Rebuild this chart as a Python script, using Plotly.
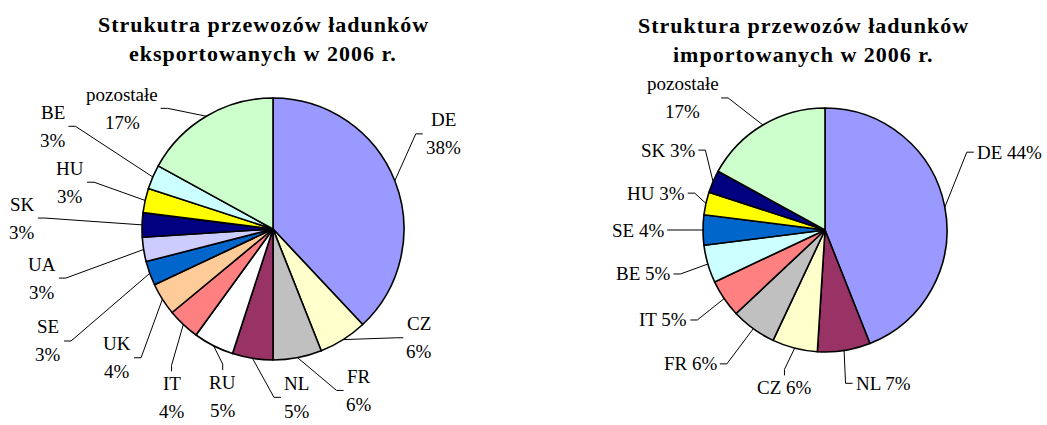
import math
import plotly.graph_objects as go

# ---------------- data ----------------
export_labels = ["DE", "CZ", "FR", "NL", "RU", "IT", "UK", "SE", "UA", "SK", "HU", "BE", "pozostałe"]
export_values = [38, 6, 6, 5, 5, 4, 4, 3, 3, 3, 3, 3, 17]
export_colors = ["#9999FF", "#FFFFCC", "#C0C0C0", "#993366", "#FFFFFF", "#FF8080", "#FFCC99",
                 "#0066CC", "#CCCCFF", "#000080", "#FFFF00", "#CCFFFF", "#CCFFCC"]
export_title = ["Strukutra przewozów ładunków", "eksportowanych w 2006 r."]

import_labels = ["DE", "NL", "CZ", "FR", "IT", "BE", "SE", "HU", "SK", "pozostałe"]
import_values = [44, 7, 6, 6, 5, 5, 4, 3, 3, 17]
import_colors = ["#9999FF", "#993366", "#FFFFCC", "#C0C0C0", "#FF8080", "#CCFFFF",
                 "#0066CC", "#FFFF00", "#000080", "#CCFFCC"]
import_title = ["Struktura przewozów ładunków", "importowanych w 2006 r."]

# ---------------- label placement (layout, not data) ----------------
# angular shift (deg) from the slice's mid-angle and distance (px) of each label centre
export_label_shift = [-7.6, -20.9, -17.3, -17, -10.3, -12.2, -7.2, -6.7, -3, 0.7, 0.4, 1.6, -20.7]
export_label_dist = [195, 182, 183, 170, 175, 197, 202, 251, 236, 251, 208, 243, 193]
import_label_shift = [-12.1, -11.8, 0, 9.2, 5.1, 2.6, 0, -0.3, 3.6, -16.5]
import_label_dist = [200, 164, 163, 190, 185, 187, 187, 173, 176, 194]

W, H = 1047, 425
FONT = "Liberation Serif, Times New Roman, serif"
LFS = 19      # label font size
TFS = 22      # title font size
LH = 28       # line spacing inside a label


def px(x, y):
    return x / W, 1 - y / H


CW = {"D": .722, "E": .611, "C": .667, "Z": .611, "F": .556, "R": .667, "N": .722, "L": .611,
      "U": .722, "I": .333, "T": .611, "K": .722, "S": .556, "H": .722, "A": .722, "B": .667,
      "%": .833, " ": .25, "ł": .28, "l": .28, "t": .28, "s": .39}


def tw(s, fs):
    return sum(CW.get(c, .5 if c.isdigit() else .46) for c in s) * fs


fig = go.Figure()
shapes = []
annotations = []


def add_pie(labels, values, colors, cx, cy, r, two_line, shifts, dists):
    fig.add_trace(go.Pie(
        labels=labels, values=values, sort=False, direction="clockwise", rotation=0,
        marker=dict(colors=colors, line=dict(color="black", width=1.6)),
        textinfo="none", hoverinfo="label+percent",
        domain=dict(x=[(cx - r) / W, (cx + r) / W], y=[1 - (cy + r) / H, 1 - (cy - r) / H]),
        showlegend=False,
    ))
    total = float(sum(values))
    cum = 0.0
    for lab, v, sh, dist in zip(labels, values, shifts, dists):
        mid = (cum + v / 2) / total * 360
        cum += v
        pct = f"{round(v / total * 100)}%"
        a = math.radians(mid)
        ex, ey = cx + r * math.sin(a), cy - r * math.cos(a)          # slice edge point
        b = math.radians(mid + sh)
        tx, ty = cx + dist * math.sin(b), cy - dist * math.cos(b)    # label centre
        lines = [lab, pct] if (two_line or lab == "pozostałe") else [f"{lab} {pct}"]
        n = len(lines)
        hw = max(tw(t, LFS) for t in lines) / 2
        hh = (n - 1) * LH / 2 + LFS * 0.5
        for i, t in enumerate(lines):
            ly = ty + (i - (n - 1) / 2) * LH
            annotations.append(dict(x=px(tx, ly)[0], y=px(tx, ly)[1], xref="paper", yref="paper",
                                    text=t, showarrow=False, xanchor="center", yanchor="middle",
                                    font=dict(family=FONT, size=LFS, color="black")))
        if abs(tx - ex) > hw:      # connect to the side of the label
            side = 1 if tx < ex else -1    # +1: label left of edge point -> connect to its right side
            sx = tx + side * (hw + 3)
            kx = sx + side * 7
            path = "M {} {} L {} {} L {} {}".format(*px(ex, ey), *px(kx, ty), *px(sx, ty))
        else:                      # connect to the top / bottom of the label
            vs = -1 if ty > ey else 1
            sy = ty + vs * (hh + 3)
            ky = sy + vs * 6
            path = "M {} {} L {} {} L {} {}".format(*px(ex, ey), *px(tx, ky), *px(tx, sy))
        shapes.append(dict(type="path", xref="paper", yref="paper", path=path,
                           line=dict(color="black", width=1)))


def add_title(lines, cx, y0):
    for i, t in enumerate(lines):
        x, y = px(cx, y0 + i * 29)
        annotations.append(dict(x=x, y=y, xref="paper", yref="paper",
                                text=f"<span style='letter-spacing:1px'><b>{t}</b></span>",
                                showarrow=False, xanchor="center", yanchor="middle",
                                font=dict(family=FONT, size=TFS, color="black")))


add_pie(export_labels, export_values, export_colors, 273, 229, 131, True,
        export_label_shift, export_label_dist)
add_pie(import_labels, import_values, import_colors, 825, 230, 122, False,
        import_label_shift, import_label_dist)
add_title(export_title, 263, 24)
add_title(import_title, 803, 25)

fig.update_layout(
    width=W, height=H, margin=dict(l=0, r=0, t=0, b=0),
    paper_bgcolor="white", plot_bgcolor="white",
    shapes=shapes, annotations=annotations,
)
fig.write_html("out.html", config={"displayModeBar": False},
               post_script="document.body.style.margin='0';document.body.style.overflow='hidden';")
